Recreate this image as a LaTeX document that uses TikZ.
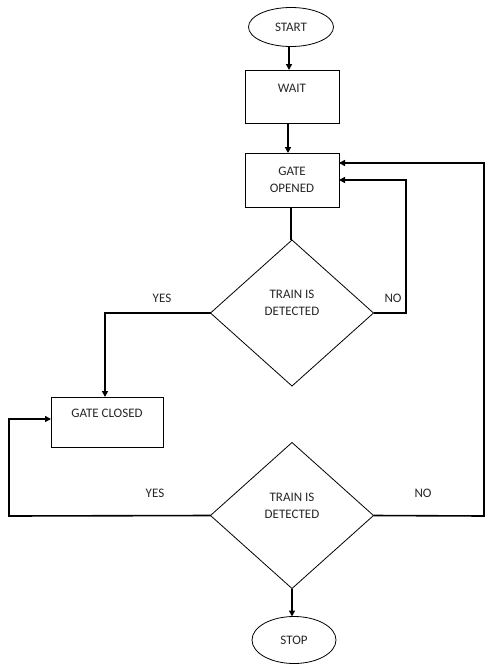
\documentclass[tikz,border=0pt]{standalone}
\usepackage{fontspec}
\setmainfont{Carlito}
\usetikzlibrary{shapes.geometric,arrows.meta}
\begin{document}
\begin{tikzpicture}[x=1pt,y=-1pt,
  every node/.style={font=\fontsize{13}{17}\selectfont, inner sep=0pt, outer sep=0pt, text=black!85},
  box/.style={draw, line width=0.8pt, rectangle, align=center},
  term/.style={draw, line width=0.8pt, ellipse},
  dec/.style={draw, line width=0.8pt, diamond, align=center, minimum width=163pt, minimum height=146pt},
  conn/.style={line width=1.6pt},
  arr/.style={line width=1.6pt, -{Triangle[length=6pt,width=6pt]}},
  lbl/.style={}]
\useasboundingbox (0,0) rectangle (490,667);
\node[term, minimum width=85pt, minimum height=39pt] (start) at (291,27) {START};
\node[box, minimum width=94pt, minimum height=53pt] (wait) at (292,96.5) {WAIT\\\mbox{}};
\node[box, minimum width=94pt, minimum height=54pt] (go) at (292,180) {GATE\\OPENED};
\node[dec] (d1) at (292,313) {TRAIN IS\\DETECTED\\[3pt]};
\node[box, minimum width=112pt, minimum height=50pt] (gc) at (107,422) {GATE CLOSED\\\mbox{}};
\node[dec] (d2) at (292,515.5) {TRAIN IS\\DETECTED\\[3pt]};
\node[term, minimum width=84pt, minimum height=47pt] (stop) at (294,640) {STOP};
\node[lbl] (yes1) at (162,298) {YES};
\node[lbl] (no1) at (393,298) {NO};
\node[lbl] (yes2) at (155,493) {YES};
\node[lbl] (no2) at (423,493) {NO};
\coordinate (r1) at (406,313);
\coordinate (r2) at (484,516);
\coordinate (l1) at (105,313);
\coordinate (l2) at (9,516);
\coordinate (in1) at (339,180);
\coordinate (in2) at (339,163);
\coordinate (in3) at (51,419);
\draw[arr] (start.south -| 289,0) -- (wait.north -| 289,0);
\draw[arr] (wait.south -| 288,0) -- (go.north -| 288,0);
\draw[conn] (go.south -| 291,0) -- (d1.north -| 291,0);
\draw[arr] (d1.east) -- (r1) |- (go.east |- in1);
\draw[arr] (d1.west) -- (l1) -- (l1 |- gc.north);
\draw[arr] (d2.west) -- (l2) |- (gc.west |- in3);
\draw[arr] (d2.east) -- (r2) |- (go.east |- in2);
\draw[arr] (d2.south) -- (stop.north -| d2.south);
\end{tikzpicture}
\end{document}
